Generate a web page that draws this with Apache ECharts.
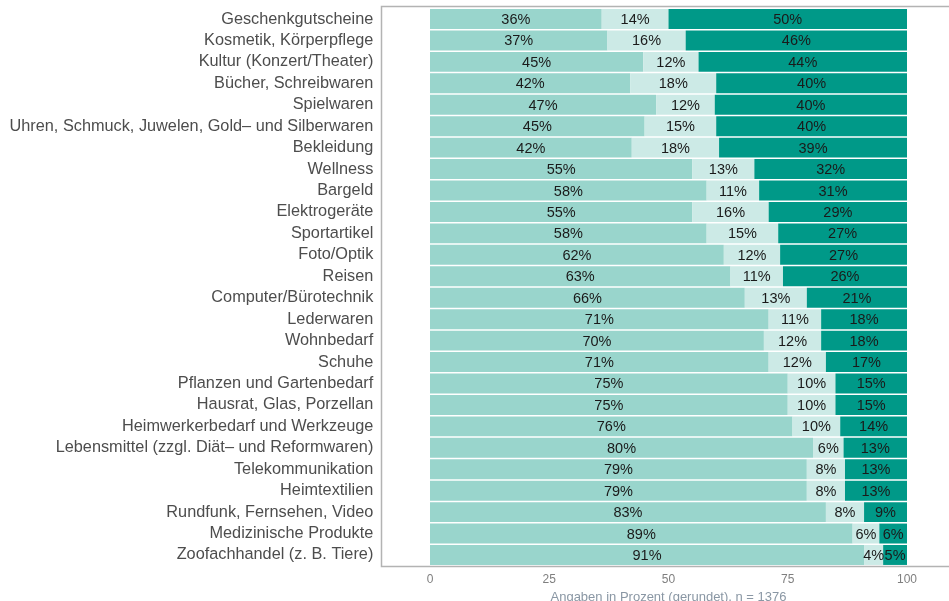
<!DOCTYPE html>
<html>
<head>
<meta charset="utf-8">
<script src="https://cdn.jsdelivr.net/npm/echarts@6/dist/echarts.min.js"></script>
<style>
  html, body { margin: 0; padding: 0; background: #fff; }
  #chart { width: 949px; height: 601px; }
</style>
</head>
<body>
<div id="chart"></div>
<script>
// Kategorien (von oben nach unten)
const categories = [
  'Geschenkgutscheine',
  'Kosmetik, Körperpflege',
  'Kultur (Konzert/Theater)',
  'Bücher, Schreibwaren',
  'Spielwaren',
  'Uhren, Schmuck, Juwelen, Gold– und Silberwaren',
  'Bekleidung',
  'Wellness',
  'Bargeld',
  'Elektrogeräte',
  'Sportartikel',
  'Foto/Optik',
  'Reisen',
  'Computer/Bürotechnik',
  'Lederwaren',
  'Wohnbedarf',
  'Schuhe',
  'Pflanzen und Gartenbedarf',
  'Hausrat, Glas, Porzellan',
  'Heimwerkerbedarf und Werkzeuge',
  'Lebensmittel (zzgl. Diät– und Reformwaren)',
  'Telekommunikation',
  'Heimtextilien',
  'Rundfunk, Fernsehen, Video',
  'Medizinische Produkte',
  'Zoofachhandel (z. B. Tiere)'
];
// Anteile je Segment (ungerundet geschätzt, Label = gerundet)
const part1 = [36, 37.2, 44.7, 42, 47.4, 45, 42.3, 55, 58, 55, 58, 61.6, 63, 66, 71, 70, 71, 75, 75, 76, 80.3, 79, 79, 83, 88.6, 91];
const part2 = [14, 16.4, 11.6, 18, 12.3, 15, 18.3, 13, 11, 16, 15, 11.8, 11, 13, 11, 12, 12, 10, 10, 10, 6.4, 8, 8, 8, 5.6, 4];
const part3 = [50, 46.4, 43.7, 40, 40.3, 40, 39.4, 32, 31, 29, 27, 26.6, 26, 21, 18, 18, 17, 15, 15, 14, 13.3, 13, 13, 9, 5.8, 5];
const xTicks = [0, 25, 50, 75, 100];

const colors = ['#99d5cc', '#cceae6', '#009988'];
const font = '"Liberation Sans", Arial, sans-serif';

let chart = echarts.init(document.getElementById('chart'), null, { renderer: 'canvas' });

function makeSeries(name, data, color) {
  return {
    name: name,
    type: 'bar',
    stack: 'total',
    data: data,
    barWidth: '93%',
    itemStyle: { color: color },
    label: {
      show: true,
      position: 'inside',
      offset: [0, 1],
      color: '#1a1a1a',
      fontFamily: font,
      fontSize: 14.5,
      formatter: p => Math.round(p.value) + '%'
    },
    emphasis: { disabled: true }
  };
}

let option = {
  animation: false,
  textStyle: { fontFamily: font },
  graphic: [{
    type: 'rect',
    z: -1,
    shape: { x: 381.5, y: 6.5, width: 600, height: 560 },
    style: { fill: 'none', stroke: '#b3b3b3', lineWidth: 1.5 }
  }],
  grid: {
    left: 382.3,
    right: -5.7,
    top: 8.3,
    bottom: 35.3,
    outerBoundsMode: 'none',
    containLabel: false
  },
  xAxis: {
    type: 'value',
    min: -10,
    max: 110,
    axisLine: { show: false },
    axisTick: { show: false },
    splitLine: { show: false },
    axisLabel: {
      customValues: xTicks,
      color: '#7f7f7f',
      fontSize: 12,
      margin: 8,
      fontFamily: font
    },
    name: 'Angaben in Prozent (gerundet), n = 1376',
    nameLocation: 'middle',
    nameGap: 21,
    nameTextStyle: { color: '#8a97a4', fontSize: 13, fontFamily: font }
  },
  yAxis: {
    type: 'category',
    data: categories,
    inverse: true,
    axisLine: { show: false },
    axisTick: { show: false },
    axisLabel: {
      interval: 0,
      color: '#4d4d4d',
      fontSize: 16.3,
      margin: 9,
      fontFamily: font
    }
  },
  series: [
    makeSeries('Teil 1', part1, colors[0]),
    makeSeries('Teil 2', part2, colors[1]),
    makeSeries('Teil 3', part3, colors[2])
  ]
};
chart.setOption(option);
</script>
</body>
</html>
